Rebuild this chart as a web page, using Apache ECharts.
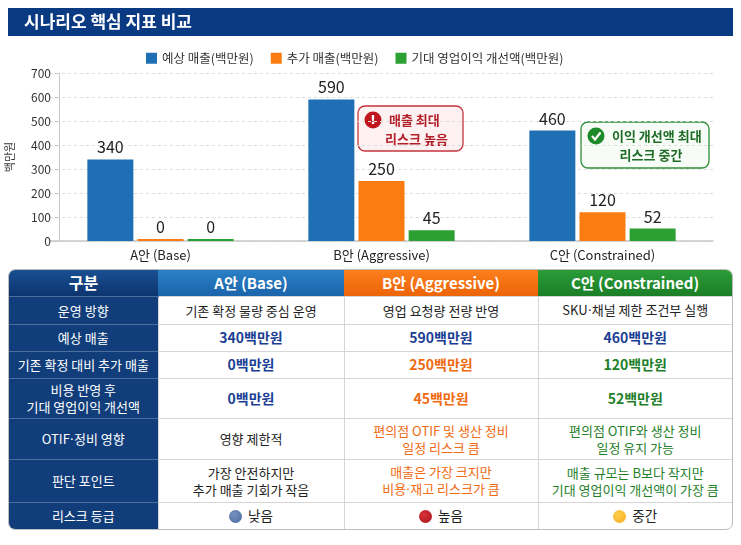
<!DOCTYPE html>
<html><head><meta charset="utf-8">
<script src="https://cdn.jsdelivr.net/npm/echarts@6/dist/echarts.min.js"></script>
<style>
html,body{margin:0;padding:0;background:#fff;width:741px;height:545px;overflow:hidden;font-family:"Noto Sans CJK KR","Noto Sans",sans-serif;}
#chart{position:absolute;left:0;top:0;width:741px;height:268px;}
#tbl{position:absolute;left:8px;top:269px;width:725px;border:1px solid #bdbdbd;border-radius:7px;overflow:hidden;box-sizing:border-box;}
table{border-collapse:collapse;width:100%;table-layout:fixed;}
td,th{text-align:center;vertical-align:middle;padding:0;font-size:13px;line-height:17px;color:#222;}
th{color:#fff;font-weight:bold;font-size:15px;}
th.lab{background:linear-gradient(#1a4f92,#0c356f);font-size:16px;}
th.a{background:linear-gradient(#2c80c6,#1a64aa);}
th.b{background:linear-gradient(#fb7f1c,#ec6408);}
th.c{background:linear-gradient(#2c9c38,#1b7e27);}
td.lab{background:#113e7b;color:#fff;border-top:1px solid #4b6e9e;}
td.d{border-top:1px solid #d6d6d6;border-left:1px solid #d6d6d6;}
.bl{color:#1b3f94;}
.or{color:#f06a12;}
.gr{color:#1f7f2b;}
.num{font-weight:bold;font-size:14px;}
.md{font-family:"DejaVu Sans",sans-serif;}
.dot{display:inline-block;width:13px;height:13px;border-radius:50%;vertical-align:-2px;margin-right:6px;}
</style></head>
<body>
<div id="chart"></div>
<div id="tbl"></div>
<script>
// ---- data ----
const titleText = '시나리오 핵심 지표 비교';
const categories = ['A안 (Base)', 'B안 (Aggressive)', 'C안 (Constrained)'];
const seriesNames = ['예상 매출(백만원)', '추가 매출(백만원)', '기대 영업이익 개선액(백만원)'];
const expectedSales = [340, 590, 460];
const additionalSales = [0, 250, 120];
const profitImprovement = [0, 45, 52];
const yAxisName = '백만원';
const yMax = 700, yStep = 100;
const noteB = ['매출 최대', '리스크 높음'];
const noteC = ['이익 개선액 최대', '리스크 중간'];

const tableHeader = ['구분', 'A안 (Base)', 'B안 (Aggressive)', 'C안 (Constrained)'];
const rowLabels = ['운영 방향', '예상 매출', '기존 확정 대비 추가 매출', '비용 반영 후<br>기대 영업이익 개선액', 'OTIF·정비 영향', '판단 포인트', '리스크 등급'];
const directionRow = ['기존 확정 물량 중심 운영', '영업 요청량 전량 반영', 'SKU·채널 제한 조건부 실행'];
const otifRow = ['영향 제한적', '편의점 OTIF 및 생산 정비<br>일정 리스크 큼', '편의점 OTIF와 생산 정비<br>일정 유지 가능'];
const judgeRow = ['가장 안전하지만<br>추가 매출 기회가 작음', '매출은 가장 크지만<br>비용·재고 리스크가 큼', '매출 규모는 B보다 작지만<br>기대 영업이익 개선액이 가장 큼'];
const riskRow = ['낮음', '높음', '중간'];
const unit = '백만원';

const colors = ['#1f6fb5', '#fb7d12', '#2ca033'];

// ---- chart ----
const chart = echarts.init(document.getElementById('chart'));
const fam = '"Noto Sans CJK KR","Noto Sans",sans-serif';
function barSeries(name, data, color) {
  return {
    name: name, type: 'bar', data: data, barWidth: 46, barGap: '9%', barMinHeight: 2,
    itemStyle: { color: color },
    label: { show: true, position: 'top', distance: 4, fontSize: 16, color: '#222', fontFamily: fam }
  };
}
function noteGroup(x, y, w, h, stroke, fill, iconColor, textColor, lines, iconType) {
  const els = [
    { type: 'rect', shape: { x: x, y: y, width: w, height: h, r: 7 }, style: { fill: fill, stroke: stroke, lineWidth: 1.3 } },
    { type: 'circle', shape: { cx: x + 15, cy: y + 14, r: 8.5 }, style: { fill: iconColor } },
    { type: 'text', x: x + 31, y: y + 14, style: { text: lines[0], font: 'bold 13px ' + fam, fill: textColor, verticalAlign: 'middle', align: 'left' } },
    { type: 'text', x: x + w / 2 + 6, y: y + 33, style: { text: lines[1], font: 'bold 13px ' + fam, fill: textColor, verticalAlign: 'middle', align: 'center' } }
  ];
  if (iconType === 'warn') {
    els.push({ type: 'text', x: x + 15, y: y + 14.5, style: { text: '!', font: 'bold 13px "DejaVu Sans"', fill: '#fff', align: 'center', verticalAlign: 'middle' } });
  } else {
    els.push({ type: 'polyline', shape: { points: [[x + 11, y + 14], [x + 14, y + 17.5], [x + 19.5, y + 10.5]] }, style: { stroke: '#fff', lineWidth: 2.2, fill: null } });
  }
  return els;
}

chart.setOption({
  animation: false,
  textStyle: { fontFamily: fam },
  grid: { left: 50, right: 28, top: 73, bottom: 27, outerBoundsMode: 'none' },
  legend: {
    top: 47, left: 141, itemWidth: 11, itemHeight: 11, itemGap: 17, icon: 'rect',
    textStyle: { fontSize: 12.5, color: '#333' },
    data: seriesNames
  },
  xAxis: {
    type: 'category', data: categories,
    axisLine: { lineStyle: { color: '#c8c8c8', width: 1.5 } },
    axisTick: { show: false },
    axisLabel: { fontSize: 13, color: '#222', margin: 8 }
  },
  yAxis: {
    type: 'value', min: 0, max: yMax, interval: yStep, offset: -9,
    name: yAxisName, nameLocation: 'middle', nameRotate: 90, nameGap: 44,
    nameTextStyle: { fontSize: 11, color: '#333' },
    axisLine: { show: true, lineStyle: { color: '#c8c8c8' } },
    axisTick: { show: true, length: 4, lineStyle: { color: '#c8c8c8' } },
    axisLabel: { fontSize: 12, color: '#333', margin: 8 },
    splitLine: { lineStyle: { color: '#dcdcdc', type: [3, 3] } }
  },
  series: [
    barSeries(seriesNames[0], expectedSales, colors[0]),
    barSeries(seriesNames[1], additionalSales, colors[1]),
    barSeries(seriesNames[2], profitImprovement, colors[2])
  ],
  graphic: [
    { type: 'rect', shape: { x: 8, y: 8, width: 725, height: 28 }, style: { fill: '#0a3a82' } },
    { type: 'text', x: 24, y: 22, style: { text: titleText, font: 'bold 17px ' + fam, fill: '#fff', verticalAlign: 'middle' } }
  ].concat(
    noteGroup(358, 106, 105, 45, '#c4343c', '#fdf1f1', '#c0141e', '#b31f29', noteB, 'warn'),
    noteGroup(581, 122, 128, 46, '#2f8d38', '#f7fcf7', '#1f8a2a', '#1d6b25', noteC, 'check')
  )
});

// ---- table ----
function fixDot(t) { return t.replace(/·/g, '<span class="md">·</span>'); }
const heights = [26, 28, 27, 27, 40, 41, 43, 27];
const colCls = ['bl', 'or', 'gr'];
const dotColors = ['radial-gradient(circle at 40% 35%,#7591bf,#4a6a9e)', 'radial-gradient(circle at 40% 35%,#d8343a,#a8111a)', 'radial-gradient(circle at 40% 35%,#ffcf4d,#f5ab1f)'];
let html = '<table><colgroup><col style="width:149px"><col style="width:186px"><col style="width:194px"><col></colgroup>';
html += '<tr style="height:' + heights[0] + 'px"><th class="lab">' + tableHeader[0] + '</th><th class="a">' + tableHeader[1] + '</th><th class="b">' + tableHeader[2] + '</th><th class="c">' + tableHeader[3] + '</th></tr>';
function row(i, cells) {
  let s = '<tr style="height:' + heights[i + 1] + 'px"><td class="lab">' + fixDot(rowLabels[i]) + '</td>';
  cells.forEach(function (c) { s += '<td class="d">' + c + '</td>'; });
  return s + '</tr>';
}
html += row(0, directionRow.map(fixDot));
html += row(1, expectedSales.map(function (v) { return '<span class="num bl">' + v + unit + '</span>'; }));
html += row(2, additionalSales.map(function (v, j) { return '<span class="num ' + colCls[j] + '">' + v + unit + '</span>'; }));
html += row(3, profitImprovement.map(function (v, j) { return '<span class="num ' + colCls[j] + '">' + v + unit + '</span>'; }));
html += row(4, otifRow.map(function (t, j) { return j === 0 ? t : '<span class="' + colCls[j] + '">' + fixDot(t) + '</span>'; }));
html += row(5, judgeRow.map(function (t, j) { return j === 0 ? t : '<span class="' + colCls[j] + '">' + fixDot(t) + '</span>'; }));
html += row(6, riskRow.map(function (t, j) { return '<span class="dot" style="background:' + dotColors[j] + '"></span><span style="font-size:13.5px">' + t + '</span>'; }));
html += '</table>';
document.getElementById('tbl').innerHTML = html;
</script>
</body></html>
